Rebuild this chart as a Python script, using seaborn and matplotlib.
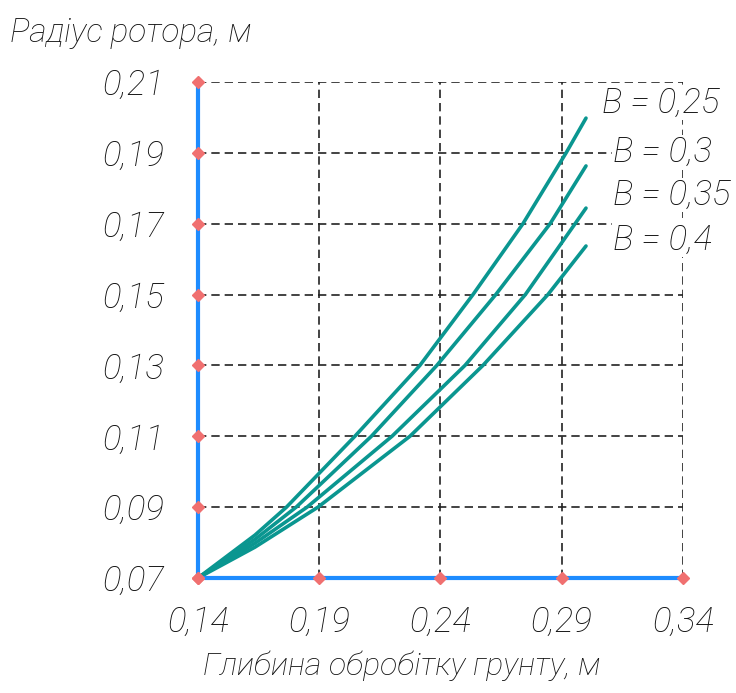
import numpy as np
import pandas as pd
import matplotlib
matplotlib.use("Agg")
import matplotlib.pyplot as plt
import seaborn as sns

# points (depth, rotor radius), one pair of lists per B
d_025 = [0.14, 0.1635, 0.1765, 0.2047, 0.2315, 0.2534, 0.2740, 0.2918, 0.30]
r_025 = [0.07, 0.0821, 0.09, 0.11, 0.13, 0.15, 0.17, 0.19, 0.1998]
d_030 = [0.14, 0.1635, 0.1805, 0.2115, 0.2385, 0.2628, 0.2852, 0.30]
r_030 = [0.07, 0.0809, 0.09, 0.11, 0.13, 0.15, 0.17, 0.1863]
d_035 = [0.14, 0.1635, 0.1850, 0.2200, 0.2501, 0.2750, 0.2955, 0.30]
r_035 = [0.07, 0.0798, 0.09, 0.11, 0.13, 0.15, 0.17, 0.1744]
d_040 = [0.14, 0.1635, 0.1895, 0.2274, 0.2575, 0.2843, 0.30]
r_040 = [0.07, 0.0787, 0.09, 0.11, 0.13, 0.15, 0.1637]
b_labels = ["B = 0,25", "B = 0,3", "B = 0,35", "B = 0,4"]
xticks = [0.14, 0.19, 0.24, 0.29, 0.34]
yticks = [0.07, 0.09, 0.11, 0.13, 0.15, 0.17, 0.19, 0.21]

df = pd.concat([
    pd.DataFrame({"depth": d, "radius": r, "B": b})
    for d, r, b in zip([d_025, d_030, d_035, d_040],
                       [r_025, r_030, r_035, r_040], b_labels)
], ignore_index=True)

sns.set_style("white")
plt.rcParams["font.family"] = ["Roboto", "DejaVu Sans"]
txt = dict(fontsize=25, fontstyle="italic", fontweight="light", color="#111111")

fig = plt.figure(figsize=(7.36, 6.93), dpi=100)
ax = fig.add_axes([0.269, 0.166, 0.659, 0.7157])

sns.lineplot(data=df, x="depth", y="radius", units="B", estimator=None,
             sort=False, color="#0a9690", lw=2.6, ax=ax, legend=False)

ax.set_xlim(xticks[0], xticks[-1])
ax.set_ylim(yticks[0], yticks[-1])
ax.set_xticks(xticks)
ax.set_yticks(yticks)
fmt = lambda v: f"{v:.2f}".replace(".", ",")
ax.set_xticklabels([fmt(v) for v in xticks], **txt)
ax.set_yticklabels([fmt(v) for v in yticks], **txt)
ax.tick_params(axis="y", length=0, pad=24)
ax.tick_params(axis="x", length=0, pad=20)

ax.grid(True, color="#222222", ls=(0, (5, 3)), lw=1.2)
ax.set_axisbelow(True)
for s in ["top", "right"]:
    ax.spines[s].set_visible(False)
for s in ["left", "bottom"]:
    ax.spines[s].set_color("#1e8cff")
    ax.spines[s].set_linewidth(3)
    ax.spines[s].set_zorder(3)

# red diamond markers where gridlines meet the axes
ax.plot(xticks, [yticks[0]] * len(xticks), ls="none", marker="D", ms=6,
        color="#f07070", clip_on=False, zorder=4)
ax.plot([xticks[0]] * len(yticks), yticks, ls="none", marker="D", ms=6,
        color="#f07070", clip_on=False, zorder=4)

# curve labels
lab_pos = [(0.3068, 0.2041), (0.311, 0.1902), (0.311, 0.1781), (0.311, 0.1654)]
for (lx, ly), t in zip(lab_pos, b_labels):
    ax.text(lx, ly, t, va="center", ha="left", clip_on=False, zorder=5,
            bbox=dict(facecolor="white", edgecolor="none", pad=0.5), **txt)

ax.set_xlabel("")
ax.set_ylabel("")
fig.text(0.013, 0.953, "Радіус ротора, м", va="center", ha="left",
         **{**txt, "fontsize": 24})
fig.text(0.546, 0.040, "Глибина обробітку грунту, м", va="center",
         ha="center", **{**txt, "fontsize": 23})

fig.savefig("out.png", dpi=100)
